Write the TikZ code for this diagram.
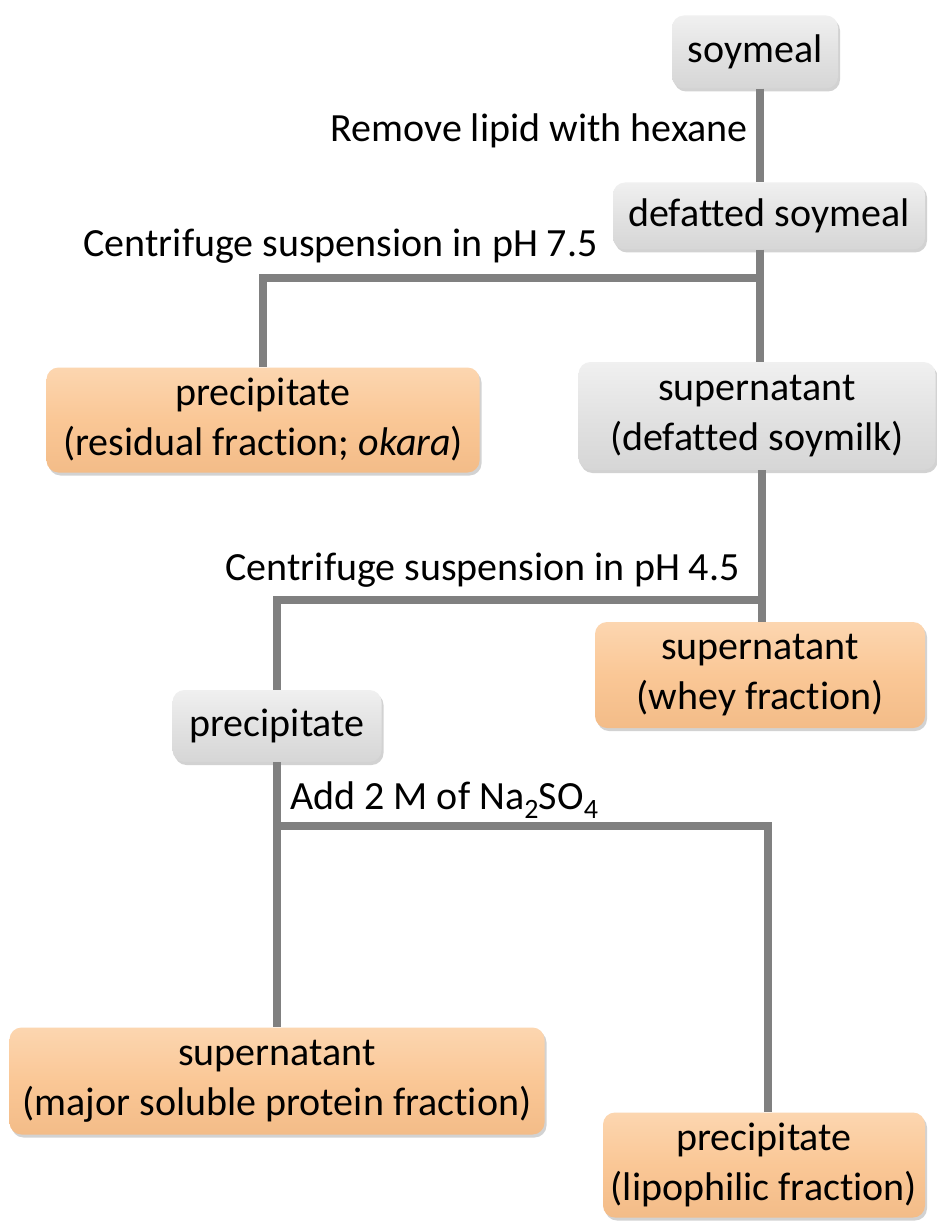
\documentclass[tikz,border=0pt]{standalone}
\usepackage{fontspec}
\setmainfont{Carlito}[Ligatures=NoCommon]
\usetikzlibrary{shadows}
\definecolor{boxgray}{HTML}{E2E2E2}
\definecolor{boxgraytop}{HTML}{F0F0F0}
\definecolor{boxgraybot}{HTML}{D6D6D6}
\definecolor{boxorange}{HTML}{FAC796}
\definecolor{boxorangetop}{HTML}{FCD6B0}
\definecolor{boxorangebot}{HTML}{F3BC88}
\definecolor{conncol}{HTML}{808080}
\tikzset{
  base/.style={rounded corners=12pt, align=center, inner sep=0pt,
    font=\fontsize{40}{50}\selectfont, text=black,
    drop shadow={shadow xshift=2pt, shadow yshift=-3pt, opacity=0.35}},
  graybox/.style={base, top color=boxgraytop, bottom color=boxgraybot, middle color=boxgray},
  orangebox/.style={base, top color=boxorangetop, bottom color=boxorangebot, middle color=boxorange},
  conn/.style={draw=conncol, line width=8pt},
  lbl/.style={font=\fontsize{40}{48}\selectfont, inner sep=0pt}
}
\begin{document}
\begin{tikzpicture}[x=1pt,y=-1pt]
\useasboundingbox[fill=white] (0,0) rectangle (936,1222);
% junctions
\coordinate (j1) at (760,278);
\coordinate (j2) at (762,600);
\coordinate (j3) at (768,826);
\node[graybox, minimum width=166pt, minimum height=73pt] (soy) at (755,52) {soymeal};
\node[graybox, minimum width=312pt, minimum height=67pt] (def) at (769,216) {defatted soymeal};
\node[orangebox, minimum width=433pt, minimum height=105pt] (prec1) at (263,420) {precipitate\\(residual fraction; \textit{okara})};
\node[graybox, minimum width=357pt, minimum height=108pt] (sup1) at (757,416) {supernatant\\(defatted soymilk)};
\node[orangebox, minimum width=330pt, minimum height=106pt] (whey) at (760,675) {supernatant\\(whey fraction)};
\node[graybox, minimum width=209pt, minimum height=72pt] (prec2) at (277,726) {precipitate};
\node[orangebox, minimum width=535pt, minimum height=107pt] (major) at (277,1081) {supernatant\\(major soluble protein fraction)};
\node[orangebox, minimum width=322pt, minimum height=105pt] (lipo) at (764,1165) {precipitate\\(lipophilic fraction)};
\draw[conn] (soy.south -| j1) -- (def.north -| j1);
\draw[conn] (def.south -| j1) -- (sup1.north -| j1);
\draw[conn] (j1) -- (j1 -| prec1) -- (prec1.north);
\draw[conn] (sup1.south -| j2) -- (whey.north -| j2);
\draw[conn] (j2) -- (j2 -| prec2) -- (prec2.north);
\draw[conn] (prec2.south) -- (major.north);
\draw[conn] (prec2.south |- j3) -- (j3) -- (lipo.north -| j3);
% labels
\node[lbl, anchor=east] (t1) at (748,131) {Remove lipid with hexane};
\node[lbl, anchor=east] (t2) at (598,246) {Centrifuge suspension in pH 7.5};
\node[lbl, anchor=east] (t3) at (740,570) {Centrifuge suspension in pH 4.5};
\node[lbl, anchor=west] (t4) at (290,800) {Add 2 M of Na\textsubscript{2}SO\textsubscript{4}};
\end{tikzpicture}
\end{document}
